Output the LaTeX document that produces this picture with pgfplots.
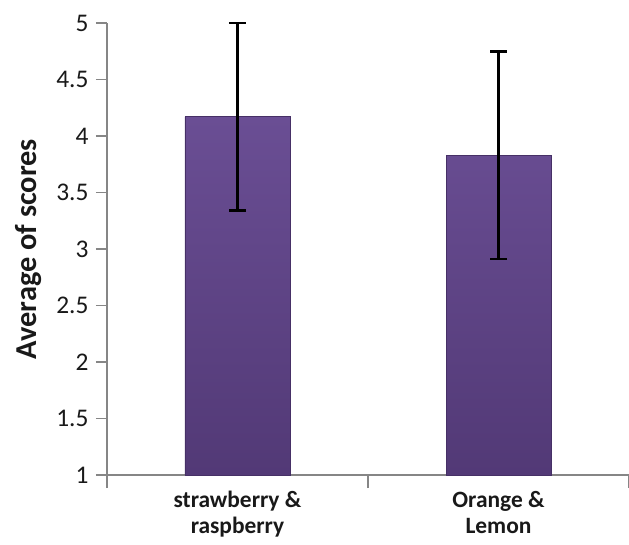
\documentclass[border=0pt]{standalone}
\usepackage{fontspec}
\setmainfont{Carlito}
\usepackage{pgfplots}
\pgfplotsset{compat=1.18}

\definecolor{bartop}{RGB}{106,78,148}
\definecolor{barbot}{RGB}{82,57,118}
\definecolor{baredge}{RGB}{70,48,102}
\definecolor{axgray}{RGB}{134,134,134}

\begin{document}
\begin{tikzpicture}
\begin{axis}[
    scale only axis,
    width=522bp, height=452bp,
    ymin=1, ymax=5,
    ytick={1,1.5,2,2.5,3,3.5,4,4.5,5},
    xmin=-0.5, xmax=1.5,
    xtick={0,1},
    xticklabels={strawberry \&\\raspberry, Orange \&\\Lemon},
    major x tick style={draw=none},
    minor xtick={-0.5,0.5,1.5},
    minor tick length=13bp,
    major tick length=11bp,
    tick align=outside,
    axis lines*=left,
    axis line style={axgray, line width=1.8bp},
    every tick/.style={axgray, line width=1.5bp},
    ytick style={axgray, line width=1.5bp},
    minor x tick style={axgray, line width=1.5bp},
    /pgf/number format/assume math mode=true,
    yticklabel style={font=\fontsize{25.5}{28}\selectfont, text=black!90, xshift=-4bp},
    xticklabel style={font=\fontsize{23.5}{26}\selectfont\bfseries, align=center, text=black!90, yshift=-2bp},
    ylabel={Average of scores},
    ylabel style={font=\fontsize{30.5}{34}\selectfont\bfseries, text=black!90},
    ylabel shift=8bp,
    clip=false,
]
\addplot[
    ybar, bar width=105bp,
    top color=bartop, bottom color=barbot,
    draw=baredge, line width=0.6bp,
    error bars/.cd, y dir=both, y explicit,
    error bar style={black, line width=2.6bp},
    error mark options={rotate=90, mark size=8.5bp, line width=2.6bp, black},
] coordinates {
    (0,4.17) +- (0,0.83)
    (1,3.83) +- (0,0.92)
};
\coordinate (ll) at (rel axis cs:0,0);
\coordinate (ur) at (rel axis cs:1,1);
\end{axis}
\pgfresetboundingbox
\useasboundingbox ([xshift=-107bp,yshift=-70bp]ll) rectangle ([yshift=23bp]ur);
\end{tikzpicture}
\end{document}
